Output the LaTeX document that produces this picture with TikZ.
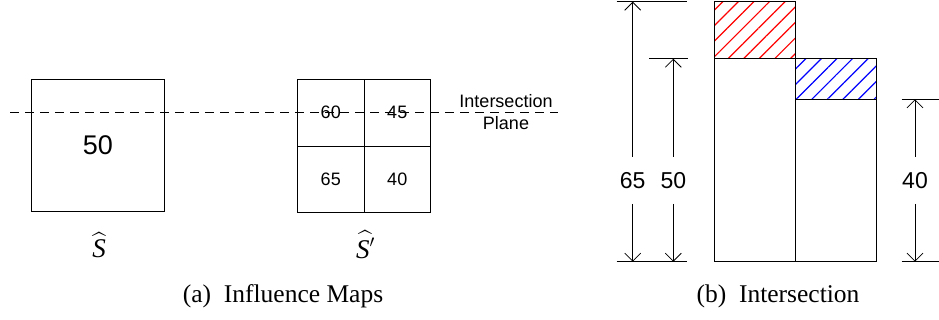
\documentclass[tikz,border=0pt]{standalone}
\usepackage{amsmath}
\usepackage{fontspec}
\setmainfont{Liberation Sans}
\newfontfamily\capfont{Liberation Serif}
\usetikzlibrary{arrows.meta,patterns.meta}

\begin{document}
\begin{tikzpicture}[x=1pt,y=-1pt,
  mapbox/.style={draw,line width=0.9pt,inner sep=0pt},
  cell/.style={mapbox,minimum size=66.5pt,font=\fontsize{18}{20}\selectfont},
  bar/.style={draw,line width=0.9pt},
  plane/.style={dash pattern=on 9pt off 6pt,line width=0.8pt},
  extline/.style={line width=0.8pt},
  dimarr/.style={-{Straight Barb[length=8pt,width=16pt]},line width=0.8pt},
  dimlabel/.style={inner sep=0pt,minimum height=47pt,font=\fontsize{23}{25}\selectfont},
  hatlabel/.style={inner sep=0pt,font=\fontsize{27}{29}\selectfont},
  caption/.style={inner sep=0pt,font=\capfont\fontsize{25.5}{27}\selectfont},
  redhatch/.style={pattern={Lines[angle=45,distance=11pt,line width=1.2pt]},pattern color=red},
  bluehatch/.style={pattern={Lines[angle=45,distance=11pt,line width=1.2pt]},pattern color=blue}]
\useasboundingbox (0,0) rectangle (939,320);

% (a) influence maps
\node[mapbox,minimum size=132.5pt,font=\fontsize{27}{30}\selectfont] (S) at (98,145.5) {50};
\node[cell] (c60) at (330.75,112.75) {60};
\node[cell] (c45) at (397.25,112.75) {45};
\node[cell] (c65) at (330.75,179.25) {65};
\node[cell] (c40) at (397.25,179.25) {40};
\node[hatlabel] (hatS) at (99,245) {$\widehat{\kern2pt\mbox{\capfont\itshape S}\kern2pt}$};
\node[hatlabel] (hatSp) at (365,245) {$\widehat{\kern2pt\mbox{\capfont\itshape S}'\kern1pt}$};
\node[align=center,inner sep=0pt,font=\fontsize{18}{22}\selectfont] (plabel) at (506,111.7) {Intersection\\Plane};
\coordinate (planeL) at (10,112.3);
\coordinate (planeR) at (558,112.3);
\draw[plane] (planeL) -- (planeR);
\node[caption] (capa) at (283,296) {(a)\hspace{0.5em}Influence Maps};

% (b) intersection
\draw[bar,redhatch] (714.3,1.7) rectangle (795,58.7);
\draw[bar] (714.3,58.7) rectangle (795,261.7);
\draw[bar,bluehatch] (795,58.7) rectangle (876.7,99.3);
\draw[bar] (795,99.3) rectangle (876.7,261.7);

\draw[extline] (616.7,1.7) -- (686.7,1.7);
\draw[extline] (649.3,58.7) -- (688.3,58.7);
\draw[extline] (616.7,261.7) -- (686.7,261.7);
\draw[extline] (901.7,99.3) -- (939,99.3);
\draw[extline] (901.7,261.7) -- (939,261.7);

\coordinate (t65) at (632.7,1.7);
\coordinate (b65) at (632.7,261.7);
\coordinate (t50) at (673.3,58.7);
\coordinate (b50) at (673.3,261.7);
\coordinate (t40) at (915,99.3);
\coordinate (b40) at (915,261.7);
\node[dimlabel] (l65) at (632.7,180.3) {65};
\node[dimlabel] (l50) at (673.3,180.3) {50};
\node[dimlabel] (l40) at (915,180.3) {40};
\draw[dimarr] (l65) -- (t65);
\draw[dimarr] (l65) -- (b65);
\draw[dimarr] (l50) -- (t50);
\draw[dimarr] (l50) -- (b50);
\draw[dimarr] (l40) -- (t40);
\draw[dimarr] (l40) -- (b40);
\node[caption] (capb) at (778,296) {(b)\hspace{0.5em}Intersection};
\end{tikzpicture}
\end{document}
